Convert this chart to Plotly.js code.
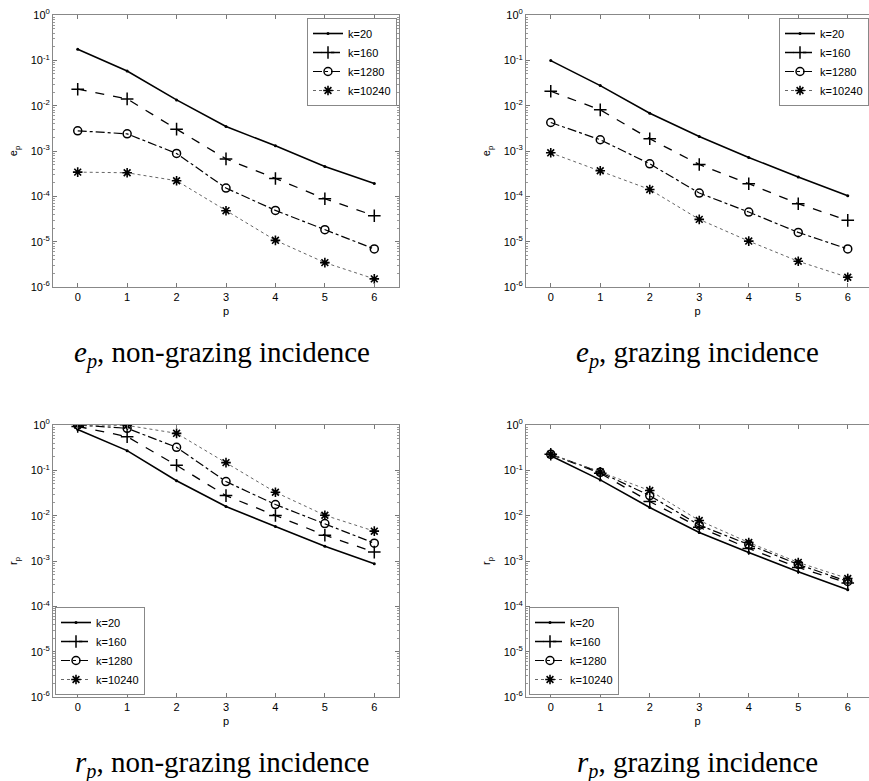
<!DOCTYPE html>
<html>
<head>
<meta charset="utf-8">
<script src="https://cdn.plot.ly/plotly-3.0.1.min.js"></script>
<style>html,body{margin:0;padding:0;background:#fff;}#chart{width:869px;height:781px;}</style>
</head>
<body>
<div id="chart"></div>
<script>
// ---- data ----
const p = [0, 1, 2, 3, 4, 5, 6];
const seriesNames = ['k=20', 'k=160', 'k=1280', 'k=10240'];

// e_p, non-grazing incidence
const epNonGrazing_k20    = [0.175, 0.058, 0.0134, 0.00347, 0.0013, 4.57e-4, 1.93e-4];
const epNonGrazing_k160   = [0.0231, 0.0141, 0.00303, 6.7e-4, 2.48e-4, 8.85e-5, 3.74e-5];
const epNonGrazing_k1280  = [2.79e-3, 2.39e-3, 8.83e-4, 1.52e-4, 4.9e-5, 1.84e-5, 6.9e-6];
const epNonGrazing_k10240 = [3.42e-4, 3.31e-4, 2.21e-4, 4.82e-5, 1.07e-5, 3.45e-6, 1.51e-6];

// e_p, grazing incidence
const epGrazing_k20    = [0.0987, 0.0277, 0.00682, 0.00209, 7.2e-4, 2.66e-4, 1.03e-4];
const epGrazing_k160   = [0.0208, 0.00808, 0.00186, 5.05e-4, 1.9e-4, 6.87e-5, 2.95e-5];
const epGrazing_k1280  = [4.25e-3, 1.77e-3, 5.22e-4, 1.18e-4, 4.5e-5, 1.6e-5, 6.9e-6];
const epGrazing_k10240 = [9.12e-4, 3.66e-4, 1.42e-4, 3.1e-5, 1.03e-5, 3.69e-6, 1.64e-6];

// r_p, non-grazing incidence
const rpNonGrazing_k20    = [0.80, 0.272, 0.059, 0.0159, 5.76e-3, 2.12e-3, 8.66e-4];
const rpNonGrazing_k160   = [0.93, 0.553, 0.129, 0.0277, 0.0101, 3.71e-3, 1.57e-3];
const rpNonGrazing_k1280  = [1.0, 0.845, 0.322, 0.0565, 0.0176, 6.7e-3, 2.47e-3];
const rpNonGrazing_k10240 = [1.0, 0.98, 0.655, 0.148, 0.0329, 0.0102, 4.55e-3];

// r_p, grazing incidence
const rpGrazing_k20    = [0.21, 0.0615, 0.0151, 4.25e-3, 1.54e-3, 5.78e-4, 2.32e-4];
const rpGrazing_k160   = [0.226, 0.0862, 0.0205, 5.57e-3, 1.89e-3, 7.2e-4, 3.26e-4];
const rpGrazing_k1280  = [0.226, 0.0906, 0.0277, 6.17e-3, 2.31e-3, 8.39e-4, 3.54e-4];
const rpGrazing_k10240 = [0.226, 0.0922, 0.0358, 7.81e-3, 2.56e-3, 9.29e-4, 4.12e-4];

const yTickVals = [1e-6, 1e-5, 1e-4, 1e-3, 1e-2, 1e-1, 1];
const yTickText = ['10<sup>-6</sup>', '10<sup>-5</sup>', '10<sup>-4</sup>', '10<sup>-3</sup>', '10<sup>-2</sup>', '10<sup>-1</sup>', '10<sup>0</sup>'];
const xTickVals = [0, 1, 2, 3, 4, 5, 6];

const captions = [
  '<i>e</i><sub><i>p</i></sub>, non-grazing incidence',
  '<i>e</i><sub><i>p</i></sub>, grazing incidence',
  '<i>r</i><sub><i>p</i></sub>, non-grazing incidence',
  '<i>r</i><sub><i>p</i></sub>, grazing incidence'
];
const yTitles = ['e<sub>p</sub>', 'e<sub>p</sub>', 'r<sub>p</sub>', 'r<sub>p</sub>'];

// minor tick positions (2..9 in each decade)
const minorVals = [];
for (let d = -6; d < 0; d++) {
  for (let m = 2; m <= 9; m++) minorVals.push(m * Math.pow(10, d));
}

// ---- styles ----
const styles = [
  {line: {color: '#000', width: 1.6, dash: 'solid'}, marker: {symbol: 'circle', size: 3, color: '#000'}},
  {line: {color: '#000', width: 1.3, dash: 'dash'}, marker: {symbol: 'cross-thin', size: 9, color: '#000', line: {color: '#000', width: 1.5}}},
  {line: {color: '#000', width: 1.2, dash: 'dashdot'}, marker: {symbol: 'circle-open', size: 8, color: '#000', line: {color: '#000', width: 1.5}}},
  {line: {color: '#666', width: 1, dash: 'dot'}, marker: {symbol: 'asterisk', size: 8, color: '#000', line: {color: '#000', width: 1.6}}}
];

const panels = [
  [epNonGrazing_k20, epNonGrazing_k160, epNonGrazing_k1280, epNonGrazing_k10240],
  [epGrazing_k20, epGrazing_k160, epGrazing_k1280, epGrazing_k10240],
  [rpNonGrazing_k20, rpNonGrazing_k160, rpNonGrazing_k1280, rpNonGrazing_k10240],
  [rpGrazing_k20, rpGrazing_k160, rpGrazing_k1280, rpGrazing_k10240]
];

const W = 869, H = 781;
// pixel boxes of the four plot areas
const boxes = [
  {l: 53, r: 399, t: 15, b: 287, xr: [-0.5, 6.5]},
  {l: 526, r: 869, t: 15, b: 287, xr: [-0.5, -0.5 + 343 / 49.5]},
  {l: 53, r: 399, t: 425, b: 697, xr: [-0.5, 6.5]},
  {l: 526, r: 869, t: 425, b: 697, xr: [-0.5, -0.5 + 343 / 49.5]}
];
const captionPos = [[222, 354], [697, 354], [222, 764], [697, 764]];
const legendNames = ['legend', 'legend2', 'legend3', 'legend4'];

const traces = [];
panels.forEach((pan, i) => {
  pan.forEach((vals, j) => {
    traces.push({
      x: p, y: vals, name: seriesNames[j], type: 'scatter', mode: 'lines+markers',
      xaxis: i === 0 ? 'x' : 'x' + (i + 1), yaxis: i === 0 ? 'y' : 'y' + (i + 1),
      line: styles[j].line, marker: styles[j].marker, legend: legendNames[i],
      showlegend: true
    });
  });
});

const axisFont = {family: 'Liberation Sans, Arial, sans-serif', size: 11, color: '#000'};
const layout = {
  width: W, height: H, margin: {l: 0, r: 0, t: 0, b: 0},
  paper_bgcolor: '#fff', plot_bgcolor: '#fff', font: axisFont,
  annotations: [], showlegend: true
};

boxes.forEach((b, i) => {
  const sfx = i === 0 ? '' : String(i + 1);
  const rightPanel = (i === 1 || i === 3);
  layout['xaxis' + sfx] = {
    domain: [b.l / W, b.r / W], range: b.xr, anchor: 'y' + sfx,
    tickvals: xTickVals, ticktext: xTickVals.map(String),
    ticks: 'inside', ticklen: 4, tickcolor: '#777', showline: true, linecolor: '#888', linewidth: 1,
    mirror: 'ticks', showgrid: false, zeroline: false, tickfont: axisFont,
    title: {text: 'p', font: {family: 'Liberation Sans, Arial, sans-serif', size: 11, color: '#000'}, standoff: 5}
  };
  layout['yaxis' + sfx] = {
    domain: [1 - b.b / H, 1 - b.t / H], type: 'log', range: [-6, 0], anchor: 'x' + sfx,
    tickvals: yTickVals, ticktext: yTickText,
    ticks: 'inside', ticklen: 4, tickcolor: '#777', showline: true, linecolor: '#888', linewidth: 1,
    mirror: rightPanel ? false : 'ticks', showgrid: false, zeroline: false, tickfont: axisFont,
    minor: {tickmode: 'array', tickvals: minorVals, ticks: 'inside', ticklen: 2, tickcolor: '#999', showgrid: false},
    title: {text: yTitles[i], font: {family: 'Liberation Sans, Arial, sans-serif', size: 11, color: '#000'}, standoff: 10}
  };
  layout.annotations.push({
    xref: 'paper', yref: 'paper', x: captionPos[i][0] / W, y: 1 - captionPos[i][1] / H,
    xanchor: 'center', yanchor: 'middle', showarrow: false, text: captions[i],
    font: {family: 'Liberation Serif, DejaVu Serif, serif', size: 29, color: '#000'}
  });
});

const legendBase = {
  bgcolor: '#fff', bordercolor: '#888', borderwidth: 1,
  font: {family: 'Liberation Sans, Arial, sans-serif', size: 11, color: '#000'},
  itemwidth: 30, tracegroupgap: 0, itemclick: false
};
layout.legend  = Object.assign({}, legendBase, {x: 397 / W, y: 1 - 18 / H, xanchor: 'right', yanchor: 'top'});
layout.legend2 = Object.assign({}, legendBase, {x: 1, y: 1 - 18 / H, xanchor: 'right', yanchor: 'top'});
layout.legend3 = Object.assign({}, legendBase, {x: 55 / W, y: 1 - 695 / H, xanchor: 'left', yanchor: 'bottom'});
layout.legend4 = Object.assign({}, legendBase, {x: 529 / W, y: 1 - 695 / H, xanchor: 'left', yanchor: 'bottom'});

Plotly.newPlot('chart', traces, layout, {staticPlot: true, displayModeBar: false});
</script>
</body>
</html>
